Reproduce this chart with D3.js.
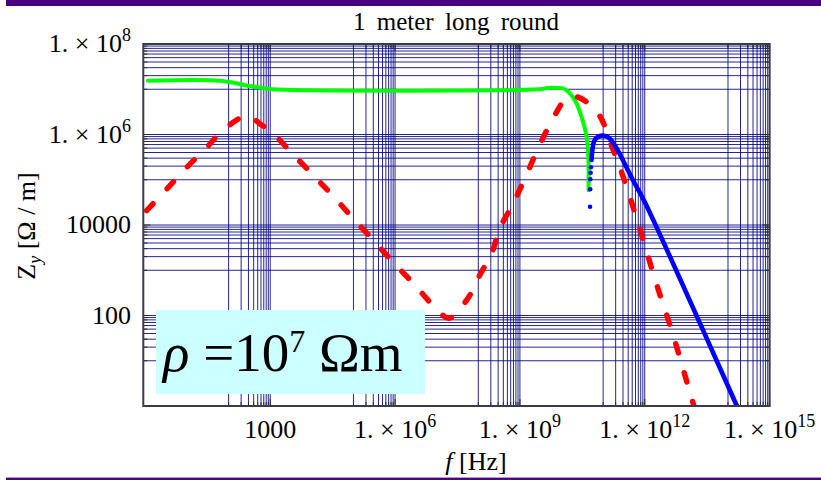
<!DOCTYPE html>
<html>
<head>
<meta charset="utf-8">
<script src="https://cdn.jsdelivr.net/npm/d3@7"></script>
<style>
  body { margin: 0; background: #ffffff; }
  svg { display: block; }
  text { font-family: "Liberation Serif", "Times New Roman", serif; fill: #000; }
</style>
</head>
<body>
<svg id="chart" width="821" height="480"></svg>
<script>
// ---- data (frequencies and impedances stored as base-10 exponents) ----
const titleText = "1 meter long round";
const xTickExponents = [3, 6, 9, 12, 15];
const xTickLabels = ["1000", "1.×10^6", "1.×10^9", "1.×10^12", "1.×10^15"];
const yTickExponents = [2, 4, 6, 8];
const yTickLabels = ["100", "10000", "1.×10^6", "1.×10^8"];

// green branch
const greenLogF = [0.06, 1.79, 2.15, 2.39, 2.75, 2.99, 9.52, 9.67, 9.91, 10.04, 10.20, 10.36, 10.48, 10.58, 10.63, 10.648, 10.65];
const greenLogZ = [7.19, 7.19, 7.14, 7.09, 7.04, 7.005, 7.005, 7.03, 7.03, 7.02, 6.91, 6.69, 6.39, 6.06, 5.73, 5.44, 4.77];

// red dashed branch
const redLogF = [0.03, 0.51, 0.98, 1.51, 1.75, 2.19, 2.45, 2.75, 3.07, 3.47, 3.97, 4.48, 4.96, 5.44, 5.92, 6.44, 6.92, 7.30, 7.72, 8.04, 8.32, 8.52, 8.84, 9.12, 9.44, 9.80, 10.10, 10.32, 10.60, 10.92, 11.24, 11.48, 11.84, 12.24, 12.68, 13.15, 13.40];
const redLogZ = [4.32, 4.79, 5.26, 5.75, 5.99, 6.32, 6.42, 6.24, 6.02, 5.64, 5.16, 4.67, 4.18, 3.70, 3.21, 2.71, 2.22, 1.94, 2.34, 2.90, 3.37, 3.93, 4.48, 5.03, 5.70, 6.36, 6.78, 6.84, 6.72, 6.41, 5.66, 5.07, 4.04, 2.82, 1.57, 0.10, -0.65];

// blue branch: sparse leading samples, then continuous trace
const blueDotLogF = [10.685, 10.688, 10.692, 10.698, 10.705];
const blueDotLogZ = [4.404, 4.789, 5.010, 5.156, 5.275];
const blueLogF = [10.721, 10.740, 10.776, 10.836, 10.920, 10.985, 11.112, 11.208, 11.304, 11.424, 11.568, 11.760, 12.000, 14.204, 14.50];
const blueLogZ = [5.436, 5.657, 5.834, 5.923, 5.967, 5.978, 5.945, 5.856, 5.724, 5.525, 5.260, 4.917, 4.508, 0.022, -0.58];

// ---- layout ----
const svg = d3.select("#chart");
const plot = { left: 143.3, right: 769.6, top: 44, bottom: 406 };

const x = d3.scaleLog().domain([Math.pow(10, -0.05), 1e15]).range([plot.left, plot.right]);
const y = d3.scaleLog().domain([1, 1e8]).range([plot.bottom, plot.top]);

// decorative bars
svg.append("rect").attr("x", 6).attr("y", 0).attr("width", 815).attr("height", 6).attr("fill", "#4b0082");
svg.append("rect").attr("x", 6).attr("y", 477.6).attr("width", 815).attr("height", 2.4).attr("fill", "#4b0082");

// title
svg.append("text")
  .attr("x", 456).attr("y", 30)
  .attr("text-anchor", "middle")
  .attr("font-size", 25)
  .attr("word-spacing", 5)
  .text(titleText);

// grid values: the decade below each labelled tick
function decadeLines(exps) {
  const out = [];
  exps.forEach(e => {
    for (let k = 1; k <= 10; k++) out.push(k * Math.pow(10, e - 1));
  });
  return out;
}
const xGrid = decadeLines(xTickExponents);
const yGrid = decadeLines(yTickExponents);
const gridColor = "#00007f";

const grid = svg.append("g");
grid.selectAll("line.v").data(xGrid).join("line")
  .attr("x1", d => x(d)).attr("x2", d => x(d))
  .attr("y1", plot.top).attr("y2", plot.bottom)
  .attr("stroke", gridColor).attr("stroke-width", 1).attr("stroke-opacity", 0.85);
grid.selectAll("line.h").data(yGrid).join("line")
  .attr("y1", d => y(d)).attr("y2", d => y(d))
  .attr("x1", plot.left).attr("x2", plot.right)
  .attr("stroke", gridColor).attr("stroke-width", 1).attr("stroke-opacity", 0.85);

// frame ticks (inward) on all four sides
const ticks = svg.append("g").attr("stroke", "#2a2a2a").attr("stroke-width", 1);
const isMajorX = d => xTickExponents.some(e => Math.abs(d - Math.pow(10, e)) / d < 1e-9);
const isMajorY = d => yTickExponents.some(e => Math.abs(d - Math.pow(10, e)) / d < 1e-9);
xGrid.forEach(d => {
  const L = isMajorX(d) ? 7 : 4;
  ticks.append("line").attr("x1", x(d)).attr("x2", x(d)).attr("y1", plot.bottom).attr("y2", plot.bottom - L);
  ticks.append("line").attr("x1", x(d)).attr("x2", x(d)).attr("y1", plot.top).attr("y2", plot.top + L);
});
yGrid.forEach(d => {
  const L = isMajorY(d) ? 7 : 4;
  ticks.append("line").attr("y1", y(d)).attr("y2", y(d)).attr("x1", plot.left).attr("x2", plot.left + L);
  ticks.append("line").attr("y1", y(d)).attr("y2", y(d)).attr("x1", plot.right).attr("x2", plot.right - L);
});

// curves
const clip = svg.append("clipPath").attr("id", "plotClip");
clip.append("rect").attr("x", plot.left).attr("y", plot.top)
  .attr("width", plot.right - plot.left).attr("height", plot.bottom - plot.top);
const curves = svg.append("g").attr("clip-path", "url(#plotClip)");

const toPoints = (lf, lz) => lf.map((v, i) => [Math.pow(10, v), Math.pow(10, lz[i])]);
const line = d3.line().x(d => x(d[0])).y(d => y(d[1])).curve(d3.curveCatmullRom.alpha(0.5));

// drawing order: green, red dashes, then blue on top
curves.append("path")
  .attr("d", line(toPoints(greenLogF, greenLogZ)))
  .attr("fill", "none").attr("stroke", "#00ff00").attr("stroke-width", 4)
  .attr("stroke-linejoin", "round").attr("stroke-linecap", "round");

curves.append("path")
  .attr("d", line(toPoints(redLogF, redLogZ)))
  .attr("fill", "none").attr("stroke", "#ff0000").attr("stroke-width", 5.5)
  .attr("stroke-dasharray", "9.5,20.5").attr("stroke-linecap", "round");

curves.append("path")
  .attr("d", line(toPoints(blueLogF, blueLogZ)))
  .attr("fill", "none").attr("stroke", "#0000ff").attr("stroke-width", 4.6)
  .attr("stroke-linejoin", "round").attr("stroke-linecap", "round");

curves.selectAll("circle.blue").data(toPoints(blueDotLogF, blueDotLogZ)).join("circle")
  .attr("cx", d => x(d[0])).attr("cy", d => y(d[1])).attr("r", 2.3).attr("fill", "#0000ff");

// frame
svg.append("rect")
  .attr("x", plot.left).attr("y", plot.top)
  .attr("width", plot.right - plot.left).attr("height", plot.bottom - plot.top)
  .attr("fill", "none").attr("stroke", "#3a3a4a").attr("stroke-width", 2);

// tick labels
function writeLabel(sel, label) {
  const parts = label.split("^");
  sel.append("tspan").text(parts[0].replace("×", " × "));
  if (parts[1]) sel.append("tspan").attr("font-size", 18).attr("dy", -11).text(parts[1]);
}
xTickExponents.forEach((e, i) => {
  const t = svg.append("text")
    .attr("x", x(Math.pow(10, e))).attr("y", 438)
    .attr("text-anchor", "middle").attr("font-size", 26);
  writeLabel(t, xTickLabels[i]);
});
yTickExponents.forEach((e, i) => {
  const t = svg.append("text")
    .attr("x", 131).attr("y", y(Math.pow(10, e)) + 8)
    .attr("text-anchor", "end").attr("font-size", 26);
  writeLabel(t, yTickLabels[i]);
});

// axis titles
const xt = svg.append("text").attr("x", 476).attr("y", 470)
  .attr("text-anchor", "middle").attr("font-size", 26);
xt.append("tspan").attr("font-style", "italic").text("f");
xt.append("tspan").text(" [Hz]");

const yt = svg.append("text")
  .attr("transform", "translate(35,226) rotate(-90)")
  .attr("text-anchor", "middle").attr("font-size", 26);
yt.append("tspan").text("Z");
yt.append("tspan").attr("font-size", 18).attr("font-style", "italic").attr("dy", 6).text("y");
yt.append("tspan").attr("dy", -6).text("  [Ω / m]");

// resistivity annotation
svg.append("rect").attr("x", 156).attr("y", 310).attr("width", 269).attr("height", 84).attr("fill", "#ccffff");
const note = svg.append("text").attr("x", 163).attr("y", 371).attr("font-size", 55);
note.append("tspan").attr("font-style", "italic").text("ρ");
note.append("tspan").text(" =10");
note.append("tspan").attr("font-size", 32).attr("dy", -19).text("7");
note.append("tspan").attr("dy", 19).text(" Ωm");
</script>
</body>
</html>
